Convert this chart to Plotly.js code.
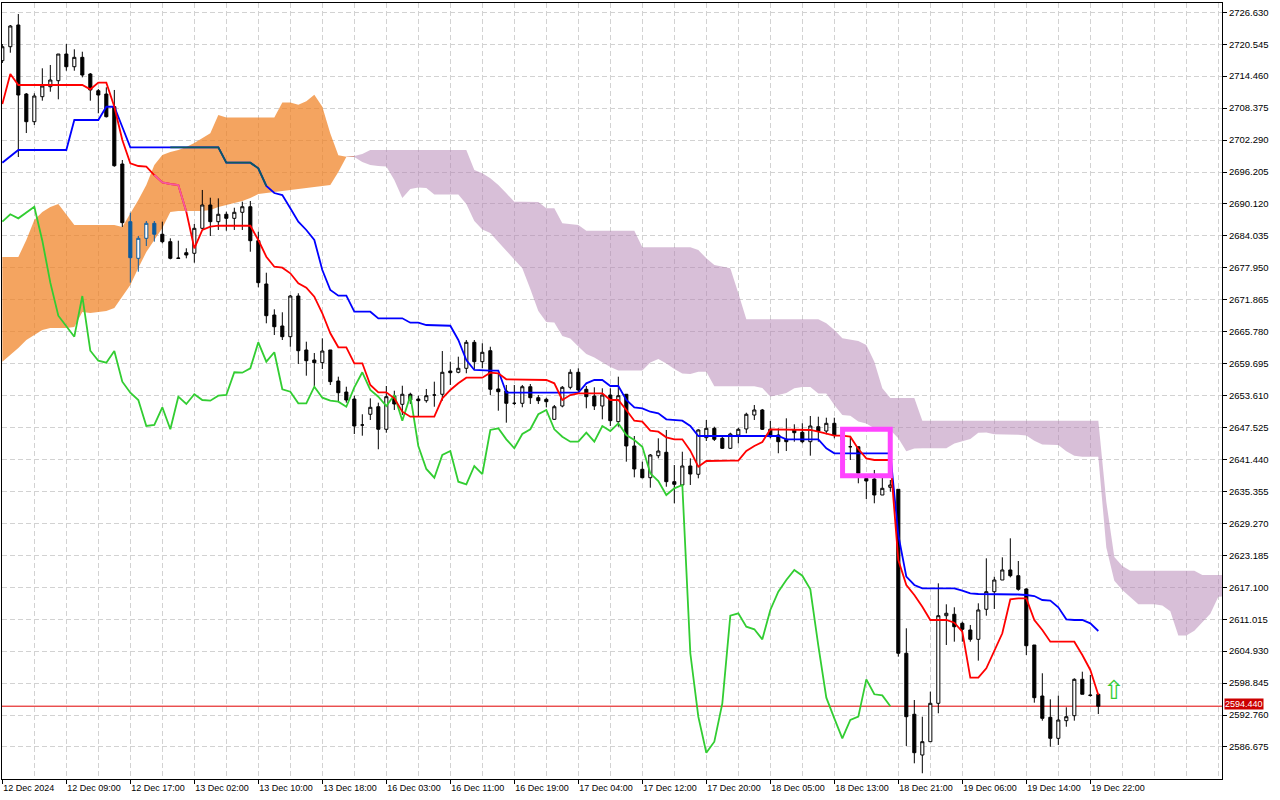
<!DOCTYPE html>
<html><head><meta charset="utf-8">
<script src="https://cdn.plot.ly/plotly-3.0.1.min.js"></script>
<style>html,body{margin:0;padding:0;background:#fff;}#chart{width:1280px;height:800px;}</style>
</head><body><div id="chart"></div>
<script>
// ---- XAUUSD H1 — bar data (index = bar number) ----
const xTickLabels = ["12 Dec 2024","12 Dec 09:00","12 Dec 17:00","13 Dec 02:00","13 Dec 10:00","13 Dec 18:00",
  "16 Dec 03:00","16 Dec 11:00","16 Dec 19:00","17 Dec 04:00","17 Dec 12:00","17 Dec 20:00",
  "18 Dec 05:00","18 Dec 13:00","18 Dec 21:00","19 Dec 06:00","19 Dec 14:00","19 Dec 22:00"];
const yTickLabels = ["2726.630","2720.545","2714.460","2708.375","2702.290","2696.205","2690.120","2684.035",
  "2677.950","2671.865","2665.780","2659.695","2653.610","2647.525","2641.440","2635.355","2629.270",
  "2623.185","2617.100","2611.015","2604.930","2598.845","2592.760","2586.675"];

const open = [
 2717.41,2720.07,2724.21,2711.06,2705.79,2710.55,2712.45,2713.60,2718.68,2716.26,
 2718.05,2714.87,2711.69,2711.06,2708.64,2697.73,2686.74,2679.76,2683.57,2686.43,
 2684.34,2682.93,2679.82,2680.83,2680.72,2685.48,2689.92,2686.74,2688.15,2687.38,
 2688.53,2689.59,2683.12,2674.87,2668.96,2666.87,2664.83,2672.58,2662.30,2660.39,
 2659.88,2662.30,2656.39,2654.29,2652.96,2648.01,2650.05,2651.49,2647.19,2653.53,
 2651.95,2653.86,2652.96,2652.64,2653.72,2653.86,2658.29,2658.05,2658.81,2663.76,
 2660.07,2662.16,2654.87,2654.48,2652.14,2652.14,2655.30,2653.21,2652.90,2649.09,
 2651.63,2655.19,2658.05,2654.81,2653.53,2651.63,2653.72,2648.64,2653.86,2644.01,
 2639.57,2637.97,2642.16,2642.81,2637.21,2636.58,2640.20,2638.62,2645.59,2647.38,
 2645.47,2643.57,2646.10,2647.25,2649.91,2650.87,2647.19,2646.10,2645.28,2647.06,
 2646.62,2644.83,2647.68,2646.86,2648.33,2645.91,2643.87,2643.87,2637.82,2637.72,
 2634.67,2636.14,2635.76,2604.52,2592.90,2585.14,2587.68,2594.99,2611.68,2611.95,
 2610.23,2608.96,2607.18,2612.90,2616.25,2618.48,2620.39,2619.30,2616.77,2606.10,
 2596.38,2592.32,2588.32,2591.68,2592.63,2599.56,2596.57,2596.71];
const high = [
 2720.59,2724.21,2726.30,2711.25,2711.20,2715.96,2716.59,2718.68,2720.59,2719.58,
 2719.12,2715.06,2712.02,2712.34,2711.83,2698.49,2688.45,2684.01,2686.87,2686.87,
 2686.74,2683.57,2683.12,2681.67,2686.30,2692.78,2691.31,2691.19,2688.64,2689.40,
 2690.55,2690.68,2684.83,2677.02,2670.05,2669.48,2672.77,2673.10,2663.88,2661.72,
 2664.52,2662.30,2657.21,2655.30,2653.59,2650.05,2653.09,2652.26,2655.44,2654.54,
 2655.49,2654.16,2653.59,2654.87,2656.26,2662.10,2660.07,2661.02,2664.20,2664.20,
 2663.57,2662.92,2657.86,2655.63,2655.63,2655.63,2655.82,2653.72,2653.21,2651.82,
 2655.44,2658.62,2658.81,2655.44,2655.19,2655.00,2655.00,2657.21,2653.91,2645.91,
 2641.02,2642.48,2645.47,2647.06,2640.39,2642.92,2641.66,2647.19,2648.96,2647.68,
 2645.78,2646.54,2647.49,2650.35,2651.82,2651.06,2648.77,2647.38,2649.28,2648.14,
 2648.33,2649.72,2649.59,2649.40,2649.40,2646.48,2645.78,2643.87,2638.29,2639.44,
 2638.48,2637.53,2635.76,2609.28,2595.62,2592.44,2597.20,2617.85,2613.85,2613.28,
 2610.54,2609.91,2614.04,2622.61,2619.11,2622.80,2626.42,2622.10,2616.90,2606.10,
 2600.71,2595.75,2596.44,2594.23,2599.75,2601.01,2600.38,2596.71];
const low = [
 2716.97,2718.93,2699.06,2703.63,2705.16,2709.79,2711.50,2710.05,2715.50,2715.50,
 2714.24,2709.79,2707.39,2706.59,2697.21,2685.73,2675.12,2677.21,2682.11,2682.93,
 2682.62,2679.57,2679.69,2679.76,2678.93,2685.29,2684.01,2685.16,2685.02,2685.16,
 2685.16,2681.02,2674.24,2667.38,2665.15,2664.20,2662.92,2659.63,2657.40,2655.44,
 2658.68,2655.63,2652.45,2652.26,2646.29,2645.97,2648.96,2643.38,2646.54,2650.87,
 2649.91,2652.01,2649.72,2652.26,2651.49,2652.64,2655.63,2657.86,2657.86,2658.68,
 2658.81,2653.72,2650.73,2648.45,2651.82,2651.38,2652.01,2652.01,2651.38,2648.96,
 2651.38,2654.81,2653.91,2651.19,2650.87,2649.09,2647.82,2647.68,2641.02,2638.04,
 2637.85,2636.06,2641.66,2636.25,2633.09,2636.44,2636.58,2637.85,2644.96,2644.96,
 2643.44,2643.44,2644.52,2646.43,2648.96,2647.06,2645.47,2642.62,2643.05,2644.83,
 2644.52,2642.16,2644.83,2646.24,2645.47,2644.01,2641.34,2636.90,2633.91,2633.09,
 2634.67,2635.30,2603.87,2586.86,2583.56,2581.66,2587.68,2593.09,2606.10,2606.73,
 2606.73,2606.73,2603.11,2611.68,2612.96,2618.48,2618.99,2616.44,2604.19,2595.11,
 2591.68,2586.72,2587.05,2590.53,2591.68,2596.71,2596.25,2592.95];
const close = [
 2720.07,2724.02,2710.87,2705.79,2710.68,2712.59,2713.73,2718.68,2716.26,2718.05,
 2714.68,2711.83,2710.87,2706.74,2697.40,2686.55,2679.88,2683.57,2686.43,2684.34,
 2682.93,2679.76,2679.76,2680.39,2685.48,2689.92,2686.74,2688.15,2687.38,2688.53,
 2689.59,2683.12,2675.12,2668.83,2666.73,2664.83,2672.58,2662.16,2660.26,2659.88,
 2662.10,2656.26,2654.16,2652.77,2647.82,2648.01,2651.38,2647.19,2653.40,2652.01,
 2653.86,2652.77,2652.64,2653.59,2653.72,2658.05,2657.97,2658.81,2663.76,2660.07,
 2661.86,2654.81,2654.35,2652.14,2652.14,2655.30,2653.21,2652.64,2652.45,2651.49,
 2655.19,2658.05,2654.68,2653.40,2651.63,2653.72,2648.83,2653.59,2644.01,2639.63,
 2637.97,2642.29,2643.05,2637.21,2636.71,2640.20,2638.67,2647.06,2647.38,2645.28,
 2643.57,2646.29,2647.19,2650.05,2650.87,2647.19,2645.78,2644.83,2644.83,2646.54,
 2644.83,2647.82,2646.86,2648.33,2646.10,2645.15,2643.87,2638.81,2637.34,2634.67,
 2635.95,2636.58,2604.52,2592.44,2585.58,2587.68,2594.99,2611.68,2612.14,2609.58,
 2609.09,2607.18,2612.77,2616.25,2618.48,2620.39,2619.30,2616.71,2605.96,2596.06,
 2592.13,2588.32,2591.81,2592.44,2599.56,2596.71,2596.50,2594.44];

// Ichimoku Kinko Hyo (9,26,52)
const tenkan = [
 2709.16,2714.87,2712.78,2712.78,2712.78,2712.78,2712.78,2712.78,2712.78,2712.78,
 2712.78,2711.96,2713.22,2713.22,2708.64,2702.30,2697.86,2697.35,2697.21,2695.63,
 2694.24,2693.92,2693.73,2688.64,2681.67,2685.16,2685.78,2685.97,2685.97,2685.97,
 2685.97,2685.97,2683.25,2680.07,2678.16,2677.97,2676.91,2675.00,2674.16,2672.45,
 2669.29,2665.48,2662.81,2662.81,2659.76,2659.76,2655.63,2654.24,2654.24,2653.09,
 2650.54,2649.59,2649.59,2649.59,2649.59,2653.09,2654.68,2655.95,2657.02,2657.02,
 2657.02,2657.97,2657.86,2656.71,2656.71,2656.71,2656.71,2656.71,2656.58,2655.95,
 2652.77,2653.72,2654.05,2654.05,2654.05,2654.05,2652.77,2652.77,2650.87,2648.83,
 2648.64,2646.92,2646.73,2645.66,2645.28,2645.28,2643.11,2640.06,2641.15,2641.21,
 2641.21,2641.21,2641.21,2643.05,2644.01,2644.77,2647.19,2647.19,2647.19,2647.19,
 2647.19,2647.06,2646.73,2646.42,2645.97,2645.97,2645.78,2643.44,2641.66,2641.34,
 2641.34,2641.34,2622.29,2617.53,2615.62,2613.39,2610.86,2610.86,2610.86,2610.35,
 2608.63,2599.87,2599.87,2601.66,2605.15,2608.33,2614.80,2614.99,2614.99,2610.86,
 2608.96,2606.73,2606.73,2606.73,2606.73,2604.19,2601.34,2596.57];
const kijun = [
 2697.98,2699.25,2700.40,2700.40,2700.40,2700.40,2700.40,2700.40,2700.40,2706.11,
 2706.11,2706.11,2706.11,2708.64,2708.64,2704.78,2700.91,2700.91,2700.91,2700.91,
 2700.91,2700.91,2700.91,2700.91,2700.91,2700.91,2700.91,2700.91,2697.98,2697.98,
 2697.98,2697.98,2696.91,2693.54,2692.20,2691.82,2689.29,2686.74,2685.16,2683.25,
 2677.54,2673.73,2672.64,2672.64,2669.59,2669.59,2669.59,2668.33,2668.33,2668.33,
 2668.33,2667.50,2667.50,2667.06,2667.06,2666.92,2666.92,2664.20,2660.39,2658.49,
 2658.35,2658.35,2658.35,2654.16,2654.16,2654.16,2654.16,2654.16,2654.16,2654.16,
 2654.16,2654.16,2654.16,2655.95,2656.58,2656.58,2655.44,2655.44,2652.77,2651.38,
 2651.19,2650.54,2650.24,2649.09,2648.96,2648.83,2647.82,2645.91,2645.91,2645.91,
 2645.91,2645.91,2645.91,2645.91,2645.91,2645.91,2645.91,2645.91,2645.28,2645.28,
 2645.28,2645.28,2645.28,2643.57,2642.62,2642.62,2642.62,2642.62,2642.62,2642.62,
 2642.62,2642.62,2627.05,2619.11,2617.53,2616.90,2616.90,2616.90,2616.90,2616.90,
 2616.44,2615.95,2615.81,2615.81,2615.81,2615.81,2615.81,2615.72,2615.62,2615.43,
 2614.67,2614.54,2613.28,2610.99,2610.86,2610.86,2610.23,2608.76];
// Chikou span, plotted 26 bars back (bars 0..111)
const chikou = [
 2686.74,2688.15,2687.38,2688.53,2689.59,2683.12,2675.12,2668.83,2666.73,2664.83,
 2672.58,2662.16,2660.26,2659.88,2662.10,2656.26,2654.16,2652.77,2647.82,2648.01,
 2651.38,2647.19,2653.40,2652.01,2653.86,2652.77,2652.64,2653.59,2653.72,2658.05,
 2657.97,2658.81,2663.76,2660.07,2661.86,2654.81,2654.35,2652.14,2652.14,2655.30,
 2653.21,2652.64,2652.45,2651.49,2655.19,2658.05,2654.68,2653.40,2651.63,2653.72,
 2648.83,2653.59,2644.01,2639.63,2637.97,2642.29,2643.05,2637.21,2636.71,2640.20,
 2638.67,2647.06,2647.38,2645.28,2643.57,2646.29,2647.19,2650.05,2650.87,2647.19,
 2645.78,2644.83,2644.83,2646.54,2644.83,2647.82,2646.86,2648.33,2646.10,2645.15,
 2643.87,2638.81,2637.34,2634.67,2635.95,2636.58,2604.52,2592.44,2585.58,2587.68,
 2594.99,2611.68,2612.14,2609.58,2609.09,2607.18,2612.77,2616.25,2618.48,2620.39,
 2619.30,2616.71,2605.96,2596.06,2592.13,2588.32,2591.81,2592.44,2599.56,2596.71,
 2596.50,2594.44];
// Senkou spans A and B, plotted 26 bars forward (bars 0..153)
const spanA = [
 2680.01,2680.01,2680.01,2683.25,2687.06,2688.58,2689.54,2690.11,2688.01,2686.11,
 2686.11,2686.11,2686.11,2686.11,2686.11,2685.73,2688.20,2690.87,2693.73,2697.54,
 2699.44,2700.01,2700.40,2700.97,2701.73,2702.68,2703.58,2707.06,2706.59,2706.59,
 2706.59,2706.59,2706.59,2706.59,2706.59,2709.44,2709.44,2709.03,2709.67,2710.93,
 2708.64,2703.54,2699.39,2699.12,2699.06,2698.11,2697.54,2697.35,2697.25,2694.68,
 2691.25,2692.97,2693.25,2693.16,2691.92,2691.92,2691.92,2691.92,2690.11,2686.87,
 2685.25,2684.58,2682.87,2681.15,2679.54,2677.86,2673.92,2669.72,2667.63,2667.53,
 2664.96,2664.49,2662.96,2661.53,2660.87,2660.01,2659.06,2658.39,2658.39,2658.39,
 2658.39,2659.91,2660.58,2659.72,2658.68,2657.82,2657.72,2658.16,2658.14,2655.38,
 2655.38,2655.38,2655.38,2655.38,2655.38,2655.06,2653.44,2653.72,2654.10,2655.00,
 2655.25,2655.25,2654.01,2654.01,2651.82,2649.91,2649.76,2648.67,2648.29,2647.38,
 2647.11,2647.06,2645.47,2643.00,2643.53,2643.57,2643.57,2643.57,2643.57,2644.48,
 2644.96,2645.34,2646.54,2646.58,2646.24,2646.24,2646.24,2646.16,2646.01,2645.00,
 2644.29,2644.29,2644.20,2643.02,2642.14,2641.97,2641.97,2641.97,2624.67,2618.33,
 2616.58,2615.15,2613.87,2613.87,2613.87,2613.62,2612.54,2607.91,2607.91,2608.80,
 2610.48,2612.06,2615.30,2615.36];
const spanB = [
 2660.07,2661.34,2662.68,2664.20,2665.15,2666.11,2666.49,2666.49,2666.49,2666.68,
 2669.53,2669.34,2669.53,2669.72,2670.30,2672.39,2674.68,2677.92,2680.96,2683.25,
 2685.54,2688.58,2688.77,2688.77,2688.77,2688.77,2688.97,2689.54,2689.92,2690.30,
 2690.68,2691.25,2692.01,2692.20,2692.39,2692.58,2692.78,2692.97,2693.16,2693.35,
 2693.54,2693.73,2696.20,2699.06,2699.25,2699.63,2700.40,2700.40,2700.40,2700.40,
 2700.40,2700.40,2700.40,2700.40,2700.40,2700.40,2700.40,2700.40,2700.40,2696.59,
 2695.96,2695.00,2693.73,2692.15,2690.55,2690.55,2690.55,2690.49,2689.29,2689.29,
 2686.43,2686.30,2686.11,2685.02,2685.02,2685.02,2685.02,2685.02,2685.02,2685.02,
 2681.86,2681.86,2681.86,2681.86,2681.86,2681.86,2681.86,2681.35,2679.76,2678.49,
 2678.11,2677.86,2673.10,2668.14,2668.14,2668.14,2668.14,2668.14,2668.14,2668.14,
 2668.14,2668.14,2668.14,2667.38,2666.11,2664.52,2664.33,2664.01,2663.25,2660.07,
 2655.00,2653.15,2653.15,2653.15,2653.15,2648.83,2648.83,2648.83,2648.83,2648.83,
 2648.83,2648.83,2648.83,2648.83,2648.83,2648.83,2648.83,2648.83,2648.83,2648.83,
 2648.83,2648.83,2648.83,2648.83,2648.83,2648.83,2648.83,2648.83,2633.34,2622.86,
 2621.15,2620.25,2620.25,2620.25,2620.25,2620.25,2620.25,2620.25,2620.25,2620.25,
 2619.43,2619.43,2619.43,2619.43];

const lastPrice = 2594.44;
const lastPriceLabel = "2594.440";
const markBars = [105.03, 110.99];       // highlighted box (bar range)
const markPrices = [2647.21, 2638.33];   // highlighted box (price range)
const signalBar = 139, signalPrice = 2597.5; // green up-arrow object
const cloudCandleBars = [16, 17, 18, 19];    // candles drawn over the sand cloud
const tenkanOverCloud = [19, 24];            // index range drawn over cloud
const kijunOverCloud = [21, 34];

// ---- build traces ----
const idx = close.map((_, i) => i);
const spanIdx = spanA.map((_, i) => i);
const chikouIdx = chikou.map((_, i) => i);
const pick = (arr, keep) => idx.filter(keep).map(i => arr[i]);
const inCloud = i => cloudCandleBars.includes(i);

// split cloud where span B rises above span A
let k = spanIdx.findIndex(i => spanB[i] > spanA[i]);
if (k < 0) k = spanIdx.length;
const seg = (arr, a, b) => arr.slice(a, b);

const traces = [];
// sand (A above B)
traces.push({x: seg(spanIdx,0,k+1), y: seg(spanB,0,k+1), mode:'lines', line:{width:0, color:'rgba(0,0,0,0)'}, hoverinfo:'skip', xaxis:'x', yaxis:'y'});
traces.push({x: seg(spanIdx,0,k+1), y: seg(spanA,0,k+1), mode:'lines', line:{width:0, color:'rgba(0,0,0,0)'}, fill:'tonexty', fillcolor:'rgba(239,125,28,0.7)', hoverinfo:'skip', xaxis:'x', yaxis:'y'});
// thistle (B above A)
traces.push({x: seg(spanIdx,k-1), y: seg(spanA,k-1), mode:'lines', line:{width:0, color:'rgba(0,0,0,0)'}, hoverinfo:'skip', xaxis:'x', yaxis:'y'});
traces.push({x: seg(spanIdx,k-1), y: seg(spanB,k-1), mode:'lines', line:{width:0, color:'rgba(0,0,0,0)'}, fill:'tonexty', fillcolor:'rgba(177,127,177,0.5)', hoverinfo:'skip', xaxis:'x', yaxis:'y'});

// candles (overlay subplot so they sit above the cloud)
traces.push({type:'candlestick', xaxis:'x2', yaxis:'y2',
  x: idx.filter(i => !inCloud(i)), open: pick(open, i => !inCloud(i)), high: pick(high, i => !inCloud(i)),
  low: pick(low, i => !inCloud(i)), close: pick(close, i => !inCloud(i)),
  increasing:{line:{color:'#000000', width:1}, fillcolor:'#ffffff'},
  decreasing:{line:{color:'#000000', width:1}, fillcolor:'#000000'},
  whiskerwidth:0, hoverinfo:'skip', showlegend:false});
traces.push({type:'candlestick', xaxis:'x2', yaxis:'y2',
  x: idx.filter(inCloud), open: pick(open, inCloud), high: pick(high, inCloud),
  low: pick(low, inCloud), close: pick(close, inCloud),
  increasing:{line:{color:'#0b5b9f', width:1}, fillcolor:'#ffffff'},
  decreasing:{line:{color:'#0b5b9f', width:1}, fillcolor:'#0b5b9f'},
  whiskerwidth:0, hoverinfo:'skip', showlegend:false});

// lines
traces.push({x: chikouIdx, y: chikou, mode:'lines', line:{color:'#32cd32', width:1.8}, hoverinfo:'skip', xaxis:'x2', yaxis:'y2'});
traces.push({x: idx, y: kijun, mode:'lines', line:{color:'#0000ff', width:1.8}, hoverinfo:'skip', xaxis:'x2', yaxis:'y2'});
traces.push({x: seg(idx, kijunOverCloud[0], kijunOverCloud[1]), y: seg(kijun, kijunOverCloud[0], kijunOverCloud[1]), mode:'lines', line:{color:'#0b5b60', width:1.8}, hoverinfo:'skip', xaxis:'x2', yaxis:'y2'});
traces.push({x: idx, y: tenkan, mode:'lines', line:{color:'#ff0000', width:1.8}, hoverinfo:'skip', xaxis:'x2', yaxis:'y2'});
traces.push({x: seg(idx, tenkanOverCloud[0], tenkanOverCloud[1]), y: seg(tenkan, tenkanOverCloud[0], tenkanOverCloud[1]), mode:'lines', line:{color:'#f45b9f', width:1.8}, hoverinfo:'skip', xaxis:'x2', yaxis:'y2'});

const xRange = [-0.04, 152.46];
const yRange = [2580.57, 2728.40];
const gridColor = '#d2d2d2';
const axisFont = {family:'Liberation Sans, Arial, sans-serif', size:9.5, color:'#000000'};

const layout = {
  width:1280, height:800,
  margin:{l:2, r:58, t:3, b:21, pad:0},
  paper_bgcolor:'#ffffff', plot_bgcolor:'#ffffff',
  showlegend:false, boxgap:0.45, hovermode:false,
  xaxis:{range:xRange, tickmode:'array', tickvals: xTickLabels.map((_, i) => i*8), ticktext: xTickLabels,
    ticks:'outside', ticklen:4, tickcolor:'#000000', tickwidth:1, ticklabelposition:'outside right',
    tickfont:{family:'Liberation Sans, Arial, sans-serif', size:9, color:'#000000'},
    showgrid:false, zeroline:false, showline:true, linecolor:'#000000', linewidth:1, mirror:true,
    minor:{tickmode:'linear', tick0:0, dtick:4, showgrid:true, gridcolor:gridColor, griddash:'5px,3px', gridwidth:1, ticks:''},
    rangeslider:{visible:false}, fixedrange:true},
  yaxis:{range:yRange, side:'right', tickmode:'array', tickvals: yTickLabels.map(Number), ticktext: yTickLabels,
    ticks:'outside', ticklen:4, tickcolor:'#000000', tickwidth:1, tickfont:axisFont,
    showgrid:true, gridcolor:gridColor, griddash:'5px,3px', gridwidth:1,
    zeroline:false, showline:true, linecolor:'#000000', linewidth:1, mirror:true, fixedrange:true},
  xaxis2:{range:xRange, overlaying:'x', visible:false, showgrid:false, zeroline:false, rangeslider:{visible:false}, fixedrange:true},
  yaxis2:{range:yRange, overlaying:'y', side:'right', visible:false, showgrid:false, zeroline:false, fixedrange:true},
  shapes:[
    {type:'line', xref:'paper', x0:0, x1:1, yref:'y', y0:lastPrice, y1:lastPrice, line:{color:'#e00000', width:1}, layer:'below'},
    {type:'rect', xref:'x', yref:'y', x0:markBars[0], x1:markBars[1], y0:markPrices[0], y1:markPrices[1],
     line:{color:'#ff44ff', width:5}, fillcolor:'rgba(0,0,0,0)', layer:'above'}
  ],
  annotations:[
    {xref:'paper', x:1, xanchor:'left', xshift:2, yref:'y', y:lastPrice, yanchor:'middle', yshift:2.5, text:lastPriceLabel,
     showarrow:false, bgcolor:'#cc0000', borderpad:0, font:{family:'Liberation Sans, Arial, sans-serif', size:9, color:'#ffffff'}},
    {xref:'x', x:signalBar, yref:'y', y:signalPrice, xanchor:'center', yanchor:'middle', text:'⇧', showarrow:false,
     font:{family:'DejaVu Sans', size:26, color:'#33cc33'}}
  ]
};

Plotly.newPlot('chart', traces, layout, {staticPlot:true, displayModeBar:false, responsive:false});
</script>
</body></html>
